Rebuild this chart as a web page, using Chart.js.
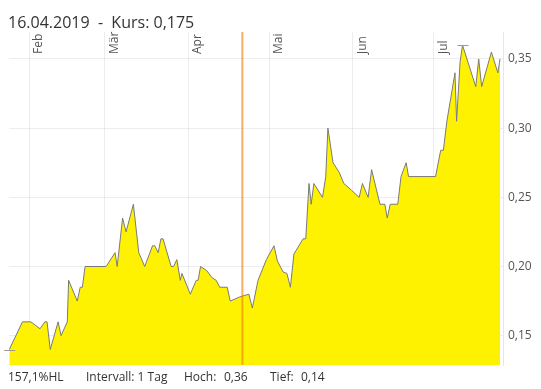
<!DOCTYPE html>
<html>
<head>
<meta charset="utf-8">
<script src="https://cdn.jsdelivr.net/npm/chart.js@4.4.1/dist/chart.umd.min.js"></script>
<style>
  body { margin: 0; background: #fff; }
  #wrap { position: relative; width: 541px; height: 389px; font-family: "Open Sans", sans-serif; color: #333; }
  canvas { position: absolute; left: 0; top: 0; }
  .txt { position: absolute; white-space: pre; }
  #title { left: 8px; top: 12px; font-size: 16px; line-height: 20px; }
  .foot { top: 369px; font-size: 12px; line-height: 16px; }
</style>
</head>
<body>
<div id="wrap">
  <canvas id="chart" width="541" height="389"></canvas>
  <div id="title" class="txt"></div>
  <div class="txt foot" style="left:8px">157,1%HL</div>
  <div class="txt foot" style="left:86px">Intervall: 1 Tag</div>
  <div class="txt foot" style="left:184px">Hoch:</div>
  <div class="txt foot" id="hoch" style="left:224px"></div>
  <div class="txt foot" style="left:270px">Tief:</div>
  <div class="txt foot" id="tief" style="left:301px"></div>
</div>
<script>
// day of year 2019 (0 = 1. Jan)
const days = [23.6, 28.5, 31.6, 35.0, 36.8, 37.6, 38.8, 41.7, 42.8, 45.1, 45.6, 48.8, 49.9, 50.7, 51.7,
  59.5, 62.8, 63.6, 65.6, 66.9, 69.6, 71.6, 73.8, 76.7, 77.5, 78.8, 79.8, 80.6, 83.6, 84.5, 85.7, 87.0, 87.6,
  90.7, 92.9, 93.6, 94.5, 96.8, 98.7, 100.3, 101.6, 104.4, 105.5, 109.0, 112.4, 113.7, 115.8, 118.9,
  121.7, 123.0, 125.1, 126.5, 127.8, 129.1, 132.5, 133.5, 134.7, 135.5, 136.5, 139.7, 140.9, 141.7, 143.6,
  145.9, 147.6, 148.8, 150.5, 153.3, 154.5, 156.6, 157.9, 161.0, 162.8, 163.7, 164.8, 167.6, 168.8, 170.7,
  171.6, 181.6, 183.5, 184.5, 185.8, 188.8, 189.4, 190.7, 191.6, 196.5, 197.6, 198.7, 202.3, 204.7, 205.5];
const kurs = [0.14, 0.16, 0.16, 0.155, 0.16, 0.16, 0.14, 0.16, 0.15, 0.16, 0.19, 0.175, 0.185, 0.185, 0.20,
  0.20, 0.21, 0.20, 0.235, 0.225, 0.245, 0.21, 0.20, 0.215, 0.215, 0.21, 0.22, 0.22, 0.20, 0.20, 0.205, 0.19, 0.195,
  0.18, 0.19, 0.19, 0.20, 0.197, 0.192, 0.19, 0.185, 0.185, 0.175, 0.178, 0.18, 0.17, 0.19, 0.205,
  0.215, 0.204, 0.196, 0.195, 0.185, 0.209, 0.22, 0.22, 0.26, 0.245, 0.26, 0.25, 0.265, 0.30, 0.275,
  0.268, 0.26, 0.258, 0.255, 0.25, 0.26, 0.25, 0.27, 0.245, 0.245, 0.235, 0.245, 0.245, 0.265, 0.275,
  0.265, 0.265, 0.284, 0.284, 0.305, 0.34, 0.305, 0.348, 0.36, 0.33, 0.35, 0.33, 0.355, 0.34, 0.35];
const monthTicks = [31, 59, 90, 120, 151, 181];
const monthLabels = ['Feb', 'Mär', 'Apr', 'Mai', 'Jun', 'Jul'];
const yTicks = [0.15, 0.20, 0.25, 0.30, 0.35];
const cursorDay = 110;
const cursorDate = '16.04.2019';
const cursorKurs = 0.175;

const fmt = (v, d) => v.toFixed(d).replace('.', ',');
const hoch = Math.max(...kurs);
const tief = Math.min(...kurs);
document.getElementById('title').textContent = cursorDate + '  -  Kurs: ' + fmt(cursorKurs, 3);
document.getElementById('hoch').textContent = fmt(hoch, 2);
document.getElementById('tief').textContent = fmt(tief, 2);

const gridColor = 'rgba(0,0,0,0.07)';

const extras = {
  id: 'extras',
  afterDatasetsDraw(chart) {
    const ctx = chart.ctx;
    const area = chart.chartArea;
    const pts = chart.getDatasetMeta(0).data;
    // hoch / tief markers
    ctx.save();
    ctx.strokeStyle = '#999';
    ctx.lineWidth = 1;
    [kurs.indexOf(hoch), kurs.indexOf(tief)].forEach(i => {
      const p = pts[i];
      ctx.beginPath();
      ctx.moveTo(p.x - 5, Math.round(p.y) + 0.5);
      ctx.lineTo(p.x + 6, Math.round(p.y) + 0.5);
      ctx.stroke();
    });
    // cursor line
    const cx = chart.scales.x.getPixelForValue(cursorDay);
    ctx.strokeStyle = 'rgba(240,120,0,0.6)';
    ctx.lineWidth = 2;
    ctx.beginPath();
    ctx.moveTo(cx, area.top);
    ctx.lineTo(cx, area.bottom);
    ctx.stroke();
    ctx.restore();
  },
  afterDraw(chart) {
    const ctx = chart.ctx;
    const xs = chart.scales.x;
    ctx.save();
    ctx.fillStyle = '#555';
    ctx.font = '12px "Open Sans"';
    ctx.textAlign = 'left';
    ctx.textBaseline = 'alphabetic';
    monthTicks.forEach((d, i) => {
      const px = xs.getPixelForValue(d);
      ctx.save();
      ctx.translate(px + 13, chart.chartArea.top + 22);
      ctx.rotate(-Math.PI / 2);
      ctx.fillText(monthLabels[i], 0, 0);
      ctx.restore();
    });
    ctx.restore();
  }
};

new Chart(document.getElementById('chart'), {
  type: 'line',
  data: {
    datasets: [{
      data: days.map((d, i) => ({ x: d, y: kurs[i] })),
      borderColor: '#7a7a7a',
      borderWidth: 1,
      backgroundColor: '#fff200',
      fill: 'start',
      pointRadius: 0,
      tension: 0
    }]
  },
  options: {
    responsive: false,
    animation: false,
    layout: { padding: { top: 32, left: 9, bottom: 24, right: 0 } },
    plugins: { legend: { display: false }, tooltip: { enabled: false } },
    scales: {
      x: {
        type: 'linear',
        min: 23.5,
        max: 206.6,
        z: 1,
        afterBuildTicks: (scale) => { scale.ticks = monthTicks.map(v => ({ value: v })); },
        ticks: { display: false },
        grid: { color: gridColor, drawTicks: false },
        border: { display: false }
      },
      y: {
        position: 'right',
        min: 0.1288,
        max: 0.3695,
        z: 1,
        afterBuildTicks: (scale) => { scale.ticks = yTicks.map(v => ({ value: v })); },
        afterFit: (scale) => { scale.width = 38; },
        ticks: {
          padding: 5,
          color: '#555',
          font: { family: 'Open Sans', size: 12 },
          callback: (v) => fmt(v, 2)
        },
        grid: { color: gridColor, drawTicks: false },
        border: { display: true, color: '#e6e6e6' }
      }
    }
  },
  plugins: [extras]
});
</script>
</body>
</html>
